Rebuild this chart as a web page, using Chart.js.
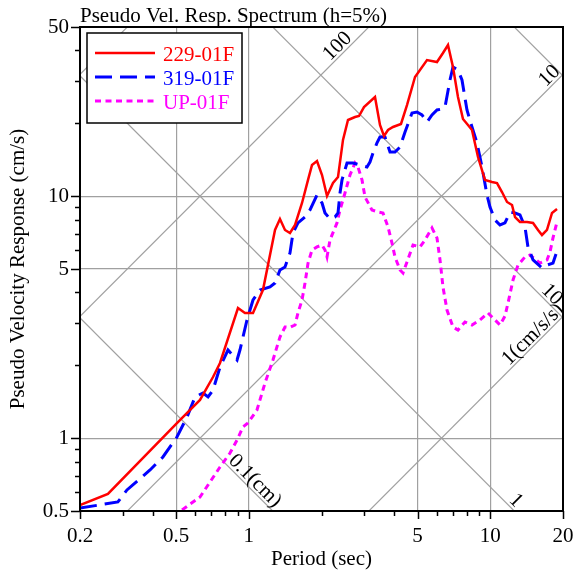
<!DOCTYPE html>
<html>
<head>
<meta charset="utf-8">
<script src="https://cdn.jsdelivr.net/npm/chart.js@4.4.1/dist/chart.umd.min.js"></script>
<style>
  html, body { margin: 0; padding: 0; background: #fff; }
</style>
</head>
<body>
<canvas id="psvChart" width="575" height="575"></canvas>
<script>
// Pseudo velocity response spectrum (h=5%) on a tripartite log-log grid

const seriesNames = ['229-01F', '319-01F', 'UP-01F'];

const period229 = [0.2, 0.261, 0.504, 0.628, 0.711, 0.760, 0.902, 0.964, 1.041, 1.145,
  1.284, 1.346, 1.412, 1.481, 1.554, 1.661, 1.759, 1.827, 1.916, 2.010,
  2.108, 2.232, 2.341, 2.455, 2.575, 2.753, 2.860, 2.999, 3.331, 3.493,
  3.629, 3.771, 3.955, 4.268, 4.519, 4.878, 5.469, 6.015, 6.369, 6.680,
  7.006, 7.348, 7.706, 8.082, 8.398, 8.893, 9.506, 10.16, 10.66, 11.18,
  11.73, 12.30, 12.66, 13.27, 14.19, 15.03, 15.76, 16.37, 17.17, 18.01, 18.89];
const sv229 = [0.529, 0.588, 1.155, 1.438, 1.789, 2.045, 3.45, 3.29, 3.29, 4.10,
  7.25, 8.05, 7.25, 7.04, 7.60, 9.37, 11.67, 13.45, 13.97, 12.23,
  10.02, 11.33, 12.00, 17.07, 20.64, 21.24, 21.44, 23.35, 25.68, 19.68,
  17.73, 18.77, 19.31, 19.87, 23.80, 31.07, 36.52, 35.84, 39.04, 42.13,
  34.17, 25.68, 20.84, 19.68, 18.77, 14.51, 11.67, 11.44, 11.33, 10.40,
  9.46, 9.19, 8.20, 7.82, 7.82, 7.75, 7.25, 6.91, 7.25, 8.52, 8.85];

const period319 = [0.2, 0.287, 0.313, 0.390, 0.441, 0.504, 0.555, 0.599, 0.646, 0.678,
  0.711, 0.760, 0.820, 0.894, 0.919, 0.983, 1.041, 1.112, 1.224, 1.284,
  1.346, 1.412, 1.481, 1.524, 1.598, 1.709, 1.792, 1.916, 2.010, 2.068,
  2.169, 2.275, 2.341, 2.386, 2.432, 2.551, 2.701, 2.887, 3.086, 3.175,
  3.268, 3.395, 3.493, 3.664, 3.843, 4.030, 4.228, 4.435, 4.740, 4.971,
  5.213, 5.469, 5.735, 6.015, 6.310, 6.493, 6.809, 7.006, 7.348, 7.634,
  8.006, 8.398, 8.809, 9.238, 9.690, 9.970, 10.46, 10.97, 11.50, 12.07,
  12.66, 13.27, 13.92, 14.32, 15.03, 16.37, 17.17, 18.18, 18.71];
const sv319 = [0.514, 0.545, 0.611, 0.739, 0.836, 1.011, 1.223, 1.480, 1.537, 1.480,
  1.581, 1.968, 2.313, 2.104, 2.313, 3.078, 3.724, 4.095, 4.213, 4.376,
  4.954, 5.097, 5.823, 7.044, 7.75, 8.20, 8.77, 10.11, 9.37, 8.52,
  8.05, 8.20, 8.52, 10.30, 11.67, 13.71, 13.71, 13.45, 13.20, 13.84,
  15.08, 16.59, 17.56, 17.56, 15.22, 15.22, 15.96, 18.41, 22.06, 22.27,
  21.65, 20.25, 21.65, 22.70, 22.92, 23.35, 30.20, 34.17, 33.21, 30.20,
  22.70, 19.31, 16.59, 13.20, 10.11, 9.02, 7.97, 7.60, 7.75, 8.60,
  8.52, 8.36, 7.46, 6.17, 5.45, 5.05, 5.19, 5.29, 5.77];

const periodUP = [0.529, 0.628, 0.760, 0.836, 0.894, 0.946, 0.992, 1.081, 1.167, 1.259,
  1.346, 1.412, 1.481, 1.554, 1.598, 1.661, 1.709, 1.759, 1.827, 1.916,
  2.010, 2.068, 2.108, 2.169, 2.318, 2.386, 2.502, 2.624, 2.753, 2.832,
  2.943, 3.028, 3.236, 3.428, 3.595, 3.771, 3.917, 4.030, 4.228, 4.351,
  4.519, 4.786, 5.116, 5.366, 5.735, 6.015, 6.191, 6.369, 6.617, 7.006,
  7.348, 7.856, 8.398, 9.065, 9.781, 10.46, 10.97, 11.50, 11.84, 12.42,
  13.02, 13.92, 14.60, 16.07, 17.17, 17.67, 18.18, 18.89];
const svUP = [0.505, 0.571, 0.760, 0.868, 0.983, 1.112, 1.155, 1.307, 1.690, 2.104,
  2.618, 2.880, 2.870, 2.935, 3.290, 3.724, 4.376, 5.29, 5.99, 6.17,
  6.28, 5.99, 5.61, 6.59, 7.75, 8.77, 10.30, 12.23, 13.71, 13.20,
  11.67, 9.92, 8.77, 8.60, 8.52, 7.46, 6.40, 5.61, 4.954, 4.815,
  5.35, 6.28, 6.17, 6.59, 7.39, 6.72, 5.45, 4.213, 3.385, 2.880,
  2.798, 3.020, 2.935, 3.078, 3.290, 3.078, 2.935, 3.196, 3.618, 4.503,
  5.19, 5.61, 5.71, 5.29, 5.45, 5.88, 6.72, 7.82];

// axes
const xTickValues = [0.2, 0.3, 0.4, 0.5, 0.6, 0.7, 0.8, 0.9, 1, 2, 3, 4, 5, 6, 7, 8, 9, 10, 20];
const yTickValues = [0.5, 0.6, 0.7, 0.8, 0.9, 1, 2, 3, 4, 5, 6, 7, 8, 9, 10, 20, 30, 40, 50];
const xLabelValues = [0.2, 0.5, 1, 5, 10, 20];
const yLabelValues = [0.5, 1, 5, 10, 50];
const xGridValues = [0.5, 1, 5, 10];
const yGridValues = [1, 5, 10];

// tripartite guide lines: displacement (cm) and acceleration (cm/s/s)
const dispValues = [0.1, 1, 10, 100];
const dispLabels = ['0.1(cm)', '1', '10', ''];
const accValues = [1, 10, 100, 1000];
const accLabels = ['1(cm/s/s)', '10', '100', ''];

const FONT = '"Liberation Serif", "Times New Roman", serif';
const GRID_GRAY = '#a0a0a0';

const tripartitePlugin = {
    id: 'tripartite',
    beforeDatasetsDraw(chart) {
        const { ctx, chartArea: a, scales: { x, y } } = chart;
        const lines = [];
        dispValues.forEach((d, i) => lines.push({ f: t => 2 * Math.PI * d / t, text: dispLabels[i], key: 'D' + d,
            tEnd: Math.min(x.max, 2 * Math.PI * d / y.min) }));
        accValues.forEach((acc, i) => lines.push({ f: t => acc * t / (2 * Math.PI), text: accLabels[i], key: 'A' + acc,
            tEnd: Math.min(x.max, 2 * Math.PI * y.max / acc) }));

        ctx.save();
        ctx.beginPath();
        ctx.rect(a.left, a.top, a.right - a.left, a.bottom - a.top);
        ctx.clip();
        ctx.strokeStyle = GRID_GRAY;
        ctx.lineWidth = 1.2;
        lines.forEach(l => {
            ctx.beginPath();
            ctx.moveTo(x.getPixelForValue(0.05), y.getPixelForValue(l.f(0.05)));
            ctx.lineTo(x.getPixelForValue(80), y.getPixelForValue(l.f(80)));
            ctx.stroke();
        });
        ctx.restore();

        // labels sit just above each line, near its lower/upper right end
        const labelGap = { 'D0.1': 1, 'D1': 1, 'D10': 14, 'A1': -5, 'A10': 0, 'A100': 20 };
        ctx.save();
        ctx.fillStyle = '#000';
        ctx.font = '21px ' + FONT;
        ctx.textAlign = 'right';
        ctx.textBaseline = 'alphabetic';
        lines.forEach(l => {
            if (!l.text) return;
            const ex = x.getPixelForValue(l.tEnd), ey = y.getPixelForValue(l.f(l.tEnd));
            const bx = x.getPixelForValue(l.tEnd / 2), by = y.getPixelForValue(l.f(l.tEnd / 2));
            const len = Math.hypot(ex - bx, ey - by);
            const ux = (ex - bx) / len, uy = (ey - by) / len;
            const gap = labelGap[l.key] || 0;
            ctx.save();
            ctx.translate(ex - ux * gap, ey - uy * gap);
            ctx.rotate(Math.atan2(uy, ux));
            ctx.fillText(l.text, 0, -3);
            ctx.restore();
        });
        ctx.restore();
    },
    afterDraw(chart) {
        const { ctx, chartArea: a, scales: { x, y } } = chart;
        ctx.save();
        // frame
        ctx.strokeStyle = '#000';
        ctx.lineWidth = 2;
        ctx.strokeRect(a.left, a.top, a.right - a.left, a.bottom - a.top);
        // outward tick marks
        ctx.lineWidth = 1.5;
        ctx.beginPath();
        xTickValues.forEach(v => {
            const px = Math.round(x.getPixelForValue(v)) + 0.5;
            ctx.moveTo(px, a.bottom);
            ctx.lineTo(px, a.bottom + (xLabelValues.includes(v) ? 8 : 5));
        });
        yTickValues.forEach(v => {
            const py = Math.round(y.getPixelForValue(v)) + 0.5;
            ctx.moveTo(a.left, py);
            ctx.lineTo(a.left - (yLabelValues.includes(v) ? 9 : 5), py);
        });
        ctx.stroke();

        // legend box
        const box = { left: 87, top: 33, width: 155, height: 90 };
        ctx.fillStyle = '#fff';
        ctx.fillRect(box.left, box.top, box.width, box.height);
        ctx.lineWidth = 1.5;
        ctx.strokeStyle = '#000';
        ctx.strokeRect(box.left, box.top, box.width, box.height);
        ctx.font = '21px ' + FONT;
        ctx.textAlign = 'left';
        ctx.textBaseline = 'alphabetic';
        chart.data.datasets.forEach((ds, i) => {
            const ly = box.top + 20 + i * 24;
            ctx.strokeStyle = ds.borderColor;
            ctx.lineWidth = ds.borderWidth;
            ctx.setLineDash(ds.borderDash || []);
            ctx.beginPath();
            ctx.moveTo(box.left + 8, ly);
            ctx.lineTo(box.left + 68, ly);
            ctx.stroke();
            ctx.setLineDash([]);
            ctx.fillStyle = ds.borderColor;
            ctx.fillText(ds.label, box.left + 76, ly + 8);
        });

        // titles
        ctx.fillStyle = '#000';
        ctx.textAlign = 'left';
        ctx.fillText('Pseudo Vel. Resp. Spectrum (h=5%)', a.left, 22);
        ctx.textAlign = 'center';
        ctx.fillText('Period (sec)', (a.left + a.right) / 2, 565);
        ctx.save();
        ctx.translate(24, (a.top + a.bottom) / 2);
        ctx.rotate(-Math.PI / 2);
        ctx.fillText('Pseudo Velocity Response (cm/s)', 0, 0);
        ctx.restore();
        ctx.restore();
    }
};

function toPoints(periods, values) {
    return periods.map((t, i) => ({ x: t, y: values[i] }));
}

const ctx = document.getElementById('psvChart');
new Chart(ctx.getContext('2d'), {
    type: 'line',
    data: {
        datasets: [{
            label: seriesNames[0],
            data: toPoints(period229, sv229),
            borderColor: '#ff0000',
            borderWidth: 2.5
        }, {
            label: seriesNames[1],
            data: toPoints(period319, sv319),
            borderColor: '#0000ff',
            borderWidth: 3,
            borderDash: [17, 8]
        }, {
            label: seriesNames[2],
            data: toPoints(periodUP, svUP),
            borderColor: '#ff00ff',
            borderWidth: 3,
            borderDash: [6, 4.5]
        }]
    },
    options: {
        responsive: false,
        animation: false,
        layout: { padding: { top: 27, right: 12, left: 0, bottom: 0 } },
        elements: { point: { radius: 0 }, line: { tension: 0, fill: false } },
        plugins: {
            legend: { display: false },
            title: { display: false },
            tooltip: { enabled: false }
        },
        scales: {
            x: {
                type: 'logarithmic',
                min: 0.2,
                max: 20,
                afterBuildTicks: s => { s.ticks = xTickValues.map(v => ({ value: v })); },
                afterFit: s => { s.height = 64; s.paddingLeft = 0; s.paddingRight = 0; },
                border: { display: false },
                grid: {
                    drawTicks: false,
                    color: c => (c.tick && xGridValues.includes(c.tick.value)) ? GRID_GRAY : 'rgba(0,0,0,0)',
                    lineWidth: 1.2
                },
                ticks: {
                    autoSkip: false,
                    maxRotation: 0,
                    padding: 13,
                    color: '#000',
                    font: { family: FONT, size: 21 },
                    callback: v => xLabelValues.includes(v) ? String(v) : ''
                }
            },
            y: {
                type: 'logarithmic',
                min: 0.5,
                max: 50,
                afterBuildTicks: s => { s.ticks = yTickValues.map(v => ({ value: v })); },
                afterFit: s => { s.width = 80; s.paddingTop = 0; s.paddingBottom = 0; },
                border: { display: false },
                grid: {
                    drawTicks: false,
                    color: c => (c.tick && yGridValues.includes(c.tick.value)) ? GRID_GRAY : 'rgba(0,0,0,0)',
                    lineWidth: 1.2
                },
                ticks: {
                    autoSkip: false,
                    padding: 11,
                    color: '#000',
                    font: { family: FONT, size: 21 },
                    callback: v => yLabelValues.includes(v) ? String(v) : ''
                }
            }
        }
    },
    plugins: [tripartitePlugin]
});
</script>
</body>
</html>
